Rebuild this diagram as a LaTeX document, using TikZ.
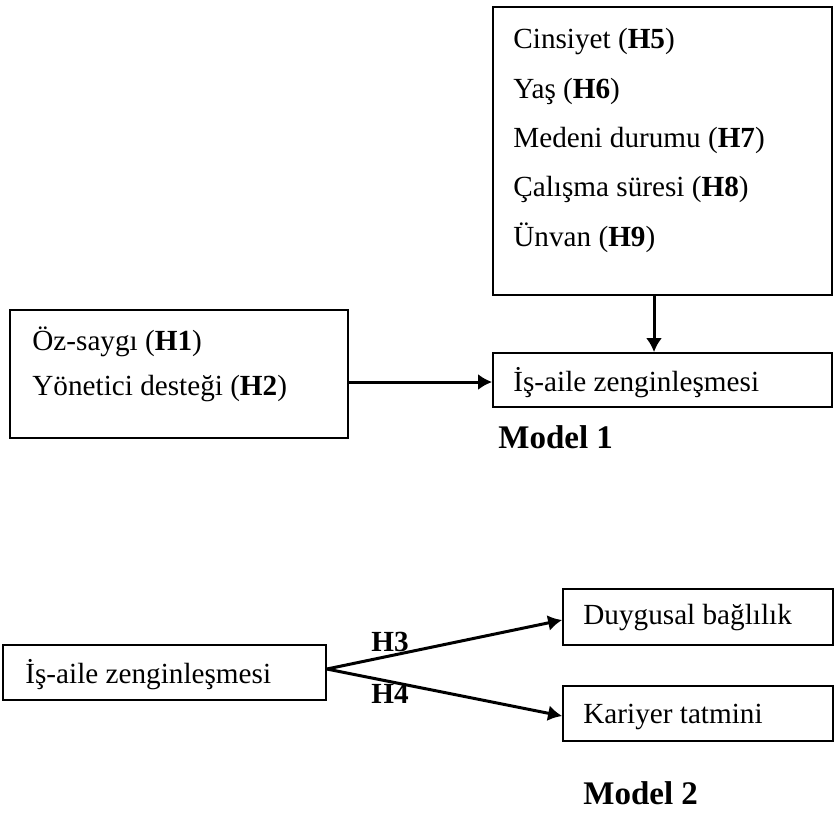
\documentclass[tikz,border=0pt]{standalone}
\usepackage{fontspec}
\setmainfont{Liberation Serif}
\usetikzlibrary{arrows.meta, positioning, calc}

\tikzset{
  box/.style={draw, rectangle, line width=0.9pt, inner sep=0pt},
  lbl/.style={font=\fontsize{14.6}{18}\selectfont, inner sep=0pt, anchor=west},
  hyp/.style={font=\fontsize{14.6}{18}\selectfont\bfseries, inner sep=0pt},
  modeltitle/.style={font=\fontsize{16.5}{20}\selectfont\bfseries, inner sep=0pt, anchor=west},
  link/.style={line width=1.5pt, -{Latex[length=7pt,width=8pt]}}
}

\begin{document}
\begin{tikzpicture}[x=0.5pt,y=-0.5pt]
  \useasboundingbox (0,0) rectangle (840,816);

  % Model 1: boxes
  \node[box, minimum width=169.5pt, minimum height=144pt] (factors) at (662.5,151) {};
  \node[box, minimum width=169pt, minimum height=64pt] (preds) at (179,374) {};
  \node[box, minimum width=169.5pt, minimum height=27pt] (enrich) at (662.5,380) {};

  % Demographic factors
  \foreach \t [count=\i] in {Cinsiyet (\textbf{H5}), Yaş (\textbf{H6}),
      Medeni durumu (\textbf{H7}), Çalışma süresi (\textbf{H8}), Ünvan (\textbf{H9})}
    \node[lbl] (f\i) at (513,{42+49*(\i-1)}) {\t};

  % Predictors
  \node[lbl] (p1) at (32,342) {Öz-saygı (\textbf{H1})};
  \node[lbl] (p2) at (32,389) {Yönetici desteği (\textbf{H2})};

  \node[lbl] (e1) at (513,383) {İş-aile zenginleşmesi};
  \node[modeltitle] (m1) at (498,437) {Model 1};

  % Model 1 arrows
  \draw[link] ($(factors.south)+(-8.5,0)$) -- ($(enrich.north)+(-8.5,0)$);
  \draw[link] ($(preds.east |- enrich.west)+(0,2)$) -- ($(enrich.west)+(0,2)$);

  % Model 2: boxes
  \node[box, minimum width=161.5pt, minimum height=27.5pt] (source) at (164.5,672.5) {};
  \node[box, minimum width=135pt, minimum height=28pt] (affect) at (698,617) {};
  \node[box, minimum width=135pt, minimum height=27.5pt] (career) at (698,713.5) {};

  \node[lbl] (s1) at (25,675) {İş-aile zenginleşmesi};
  \node[lbl] (a1) at (583,618) {Duygusal bağlılık};
  \node[lbl] (c1) at (583,717) {Kariyer tatmini};

  % Model 2 arrows
  \draw[link] ($(source.east)+(0,-3.5)$) -- ($(affect.west)+(0,3)$);
  \draw[link] ($(source.east)+(0,-3.5)$) -- ($(career.west)+(0,2.5)$);
  \node[hyp] (h3) at (390,642) {H3};
  \node[hyp] (h4) at (390,694) {H4};

  \node[modeltitle] (m2) at (583,793) {Model 2};
\end{tikzpicture}
\end{document}
